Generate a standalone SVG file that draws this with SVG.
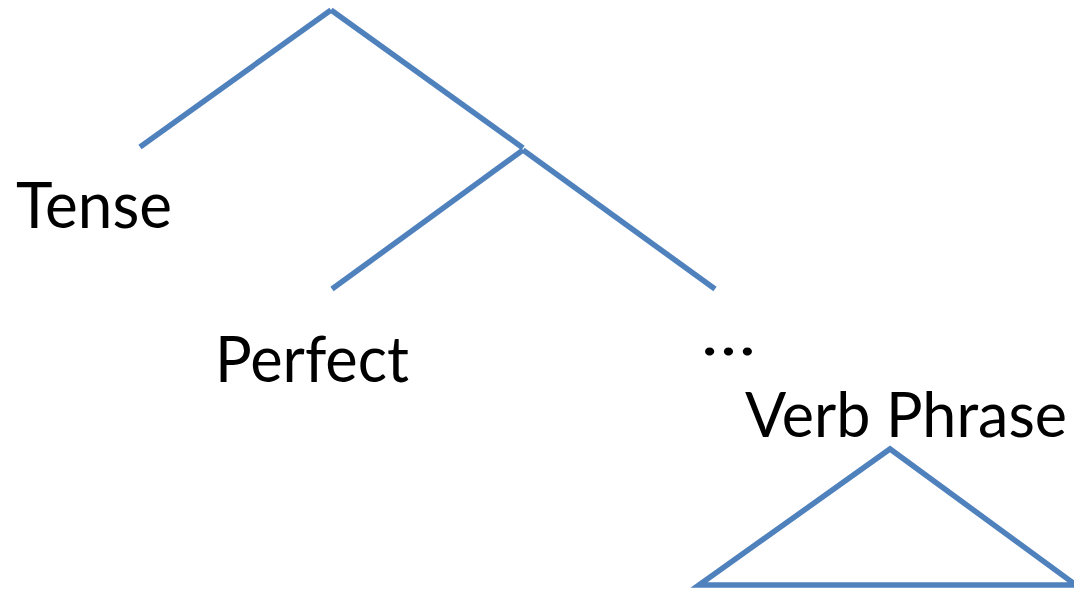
<svg xmlns="http://www.w3.org/2000/svg" width="1074" height="589" viewBox="0 0 1074 589">
<style>
.e{stroke:#4F81BD;stroke-width:5.5;fill:none;stroke-linecap:butt}
.t{font-family:Lato,"Open Sans","Liberation Sans",sans-serif;font-size:64px;fill:#000}
</style>
<rect width="1074" height="589" fill="#fff"/>
<g id="connectors">
<line class="e" x1="140" y1="147" x2="331" y2="10"/>
<line class="e" x1="331" y1="10" x2="523" y2="148"/>
<line class="e" x1="332" y1="289" x2="523" y2="150"/>
<line class="e" x1="523" y1="150" x2="715" y2="289"/>
<path class="e" d="M699,585 L890,449 L1076,585 Z"/>
</g>
<g id="tense"><text class="t" x="16" y="228" textLength="156" lengthAdjust="spacingAndGlyphs">Tense</text></g>
<g id="perfect"><text class="t" x="215" y="382" textLength="194" lengthAdjust="spacingAndGlyphs">Perfect</text></g>
<g id="dots"><text class="t" x="701" y="355" textLength="55" lengthAdjust="spacingAndGlyphs">…</text></g>
<g id="verbphrase"><text class="t" x="745" y="437" style="font-size:61px">Verb Phrase</text></g>
</svg>
